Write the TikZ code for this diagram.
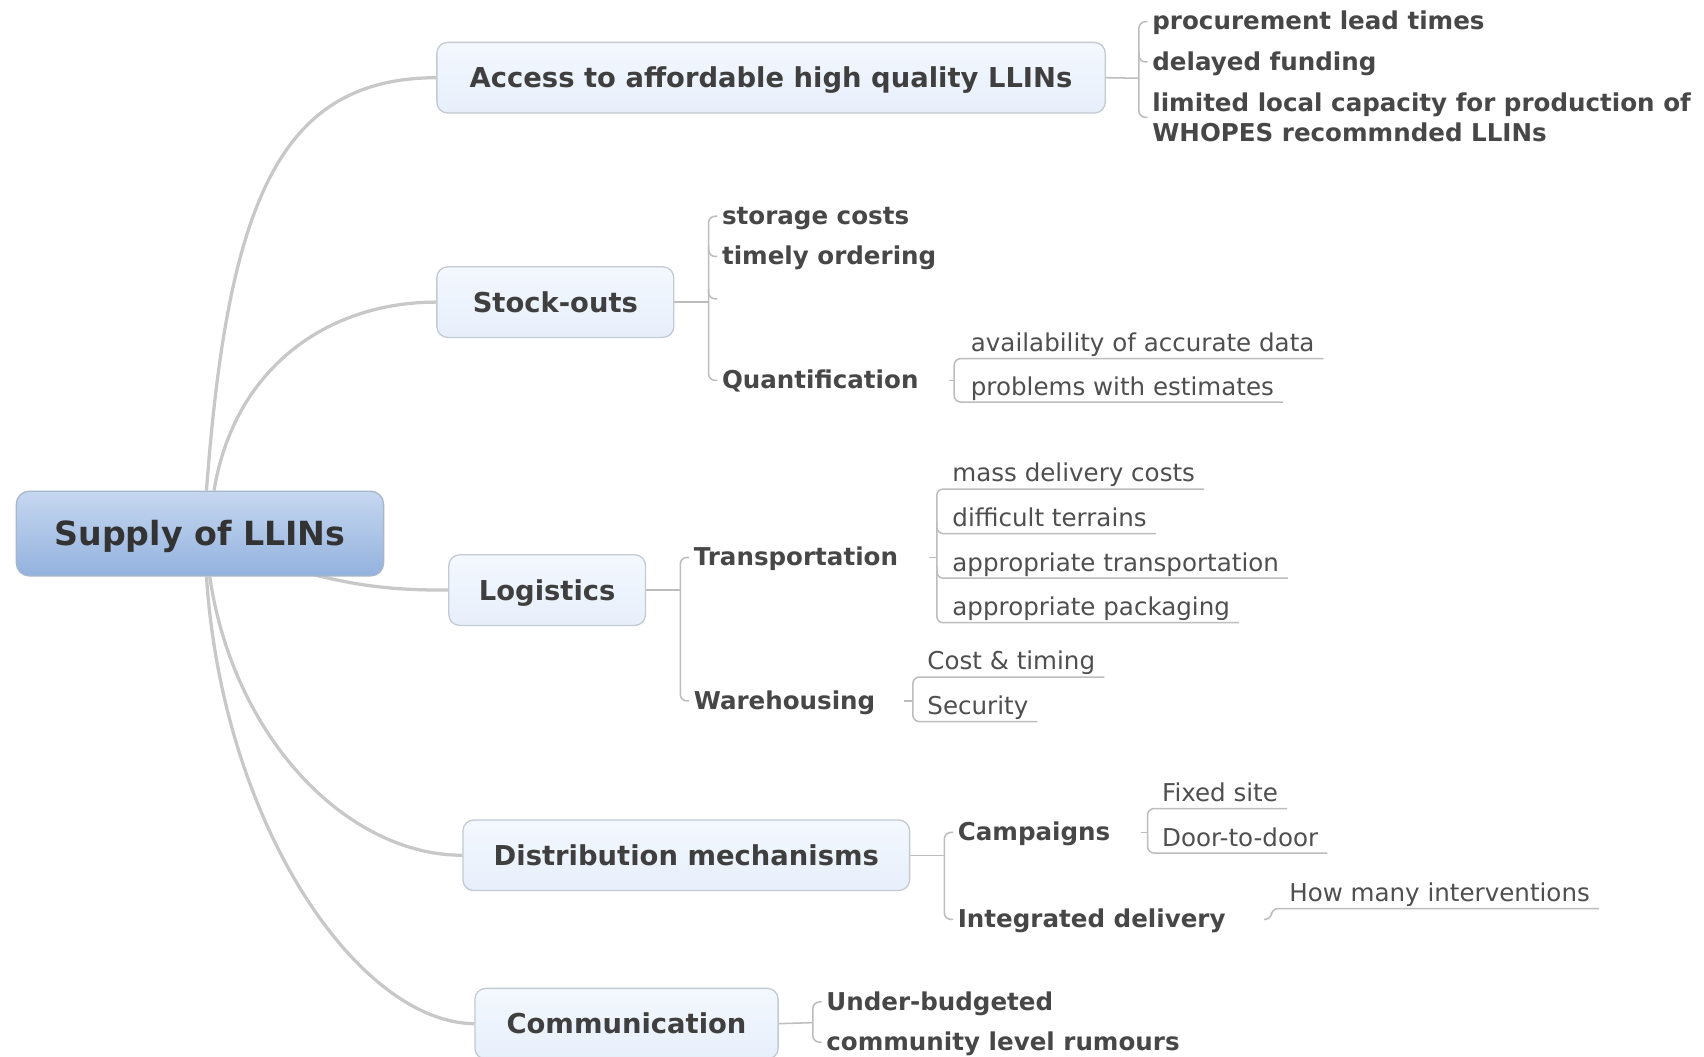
\documentclass[tikz,border=0pt]{standalone}
\usepackage{fontspec}
\setmainfont{DejaVu Sans}
\usetikzlibrary{calc,backgrounds}
\definecolor{trunkc}{HTML}{C8C8C8}
\definecolor{branchc}{HTML}{BDBDBD}
\definecolor{txtmain}{HTML}{333333}
\definecolor{txtone}{HTML}{3F3F3F}
\definecolor{txttwo}{HTML}{474747}
\definecolor{txtleaf}{HTML}{4F4F4F}
\definecolor{maintop}{HTML}{C6D7F0}
\definecolor{mainbot}{HTML}{93B2DE}
\definecolor{mainborder}{HTML}{A7B6CB}
\definecolor{topictop}{HTML}{F4F8FE}
\definecolor{topicbot}{HTML}{E7EFFB}
\definecolor{topicborder}{HTML}{C3CAD4}
\begin{document}
\begin{tikzpicture}[x=0.5pt,y=-0.5pt,
 mainbox/.style={rounded corners=6pt, top color=maintop, bottom color=mainbot, draw=mainborder, line width=0.6pt, minimum width=169pt, minimum height=39pt, font=\fontsize{15.3}{18}\selectfont\bfseries, text=txtmain, inner sep=0pt, text height=14pt, text depth=2.8pt},
 topic/.style={rounded corners=5pt, top color=topictop, bottom color=topicbot, draw=topicborder, line width=0.6pt, minimum height=32.5pt, font=\fontsize{12.6}{15}\selectfont\bfseries, text=txtone, inner sep=0pt, text height=11.7pt, text depth=2.5pt},
 sub/.style={anchor=west, inner sep=0pt, font=\fontsize{11.3}{14}\selectfont\bfseries, text=txttwo, text height=10pt, text depth=2.5pt},
 subml/.style={anchor=west, inner sep=0pt, font=\fontsize{11.3}{14}\selectfont\bfseries, text=txttwo, align=left},
 leaf/.style={anchor=west, inner sep=0pt, font=\fontsize{11.3}{13.5}\selectfont, text=txtleaf, text height=10pt, text depth=2.5pt},
 trunk/.style={draw=trunkc, line width=1.5pt},
 branch/.style={draw=branchc, line width=0.7pt, rounded corners=3pt},
]
\useasboundingbox (0,0) rectangle (1568,972);

% main and first level
\node[mainbox] (main) at (184,491) {Supply of LLINs};
\node[topic, minimum width=307.5pt] (acc) at (709.5,71.5) {Access to affordable high quality LLINs};
\node[topic, minimum width=109pt] (stock) at (511,278) {Stock-outs};
\node[topic, minimum width=90.5pt] (logi) at (503.5,543) {Logistics};
\node[topic, minimum width=205.5pt] (dist) at (631.5,787) {Distribution mechanisms};
\node[topic, minimum width=139.5pt] (comm) at (576.5,942) {Communication};

% second level
\node[sub] (p1) at (1060,20) {procurement lead times};
\node[sub] (p2) at (1060,57) {delayed funding};
\node[subml] (p3) at (1060,108) {limited local capacity for production of\\WHOPES recommnded LLINs};
\node[sub] (s1) at (664,199) {storage costs};
\node[sub] (s2) at (664,236) {timely ordering};
\node[sub] (s3) at (664,350) {Quantification};
\node[sub] (l1) at (638,513) {Transportation};
\node[sub] (l2) at (638,645) {Warehousing};
\node[sub] (d1) at (881,766) {Campaigns};
\node[sub] (d2) at (881,846) {Integrated delivery};
\node[sub] (m1) at (760,922) {Under-budgeted};
\node[sub] (m2) at (760,959) {community level rumours};

% third level
\node[leaf] (q1) at (893,316) {availability of accurate data};
\node[leaf] (q2) at (893,356) {problems with estimates};
\node[leaf] (t1) at (876,436) {mass delivery costs};
\node[leaf] (t2) at (876,477) {difficult terrains};
\node[leaf] (t3) at (876,518) {appropriate transportation};
\node[leaf] (t4) at (876,559) {appropriate packaging};
\node[leaf] (w1) at (853,609) {Cost \& timing};
\node[leaf] (w2) at (853,650) {Security};
\node[leaf] (c1) at (1069,730) {Fixed site};
\node[leaf] (c2) at (1069,771) {Door-to-door};
\node[leaf] (i1) at (1186,822) {How many interventions};

\begin{scope}[on background layer]
\fill[white] (0,0) rectangle (1568,972);
% trunk curves
\draw[trunk] ($(main.north)+(6,0)$) .. controls (210,180) and (260,72) .. (acc.west);
\draw[trunk] ($(main.north)+(13,0)$) .. controls (215,340) and (300,278) .. (stock.west);
\draw[trunk] ($(main.center)+(60,25)$) .. controls (320,540) and (360,543) .. (logi.west);
\draw[trunk] ($(main.south)+(9,0)$) .. controls (215,680) and (320,787) .. (dist.west);
\draw[trunk] ($(main.south)+(6,0)$) .. controls (205,760) and (330,941) .. (comm.west);

% access
\draw[branch] (acc.east) -- (1048,72);
\draw[branch] ($(p1.west)+(-4,0)$) -- (1048,20) -- (1048,108) -- ($(p3.west)+(-4,0)$);
\draw[branch] (1048,47) -- (1048,57) -- ($(p2.west)+(-4,0)$);

% stock-outs
\draw[branch] (stock.east) -- (652,278);
\draw[branch] ($(s1.west)+(-4,0)$) -- (652,199) -- (652,350) -- ($(s3.west)+(-4,0)$);
\draw[branch] (652,226) -- (652,236) -- ($(s2.west)+(-4,0)$);
\draw[branch] (652,266) -- (652,275) -- (660,275);
\draw[branch] ($(s3.east)+(28,0)$) -- (878,350);
\draw[branch] ($(q1.east)+(8,14)$) -- (878,330) -- (878,370) -- ($(q2.east)+(8,14)$);

% logistics
\draw[branch] (logi.east) -- (626,543);
\draw[branch] ($(l1.west)+(-4,0)$) -- (626,513) -- (626,645) -- ($(l2.west)+(-4,0)$);
\draw[branch] ($(l1.east)+(28,0)$) -- (862,513);
\draw[branch] ($(t1.east)+(8,14)$) -- (862,450) -- (862,573) -- ($(t4.east)+(8,14)$);
\draw[branch] (862,480) -- (862,491) -- ($(t2.east)+(8,14)$);
\draw[branch] (862,521) -- (862,532) -- ($(t3.east)+(8,14)$);
\draw[branch] ($(l2.east)+(26,0)$) -- (840,645);
\draw[branch] ($(w1.east)+(8,14)$) -- (840,623) -- (840,664) -- ($(w2.east)+(8,14)$);

% distribution
\draw[branch] (dist.east) -- (869,787);
\draw[branch] ($(d1.west)+(-4,0)$) -- (869,766) -- (869,846) -- ($(d2.west)+(-4,0)$);
\draw[branch] ($(d1.east)+(28,0)$) -- (1056,766);
\draw[branch] ($(c1.east)+(8,14)$) -- (1056,744) -- (1056,785) -- ($(c2.east)+(8,14)$);
\draw[branch] ($(d2.east)+(35,0)$) -- (1170,846) -- (1170,836) -- ($(i1.east)+(8,14)$);

% communication
\draw[branch] (comm.east) -- (748,941);
\draw[branch] ($(m1.west)+(-4,0)$) -- (748,922) -- (748,959) -- ($(m2.west)+(-4,0)$);
\end{scope}
\end{tikzpicture}
\end{document}
